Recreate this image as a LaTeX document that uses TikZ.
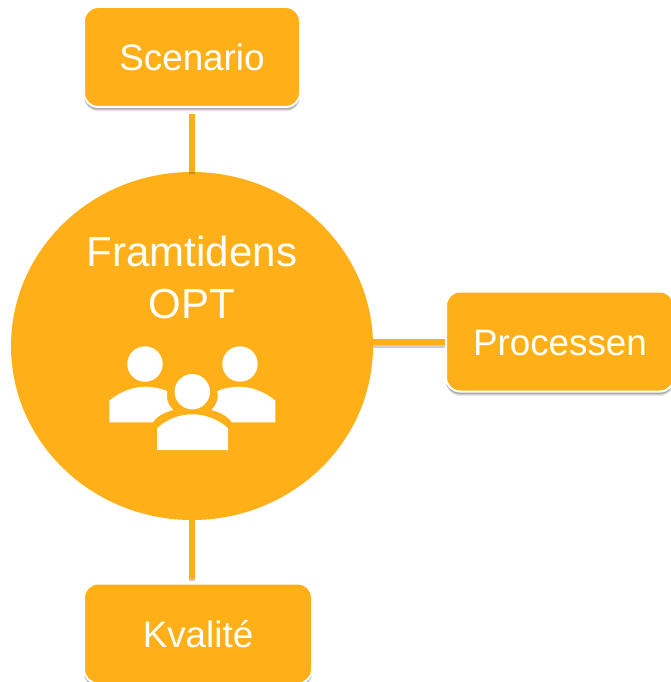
\documentclass[tikz,border=0pt]{standalone}
\usepackage{fontspec}
\setmainfont{Liberation Sans}
\usetikzlibrary{shadows,shapes.geometric}
\definecolor{optorange}{RGB}{255,176,24}
\tikzset{
  softshadow/.style={
    copy shadow={shadow xshift=0pt,shadow yshift=-4.5pt,opacity=.07,fill=black,draw=none},
    copy shadow={shadow xshift=0pt,shadow yshift=-3.5pt,opacity=.12,fill=black,draw=none},
    copy shadow={shadow xshift=0pt,shadow yshift=-2.5pt,opacity=.18,fill=black,draw=none},
  },
  boxnode/.style={softshadow,rectangle,rounded corners=14pt,fill=optorange,draw=white,line width=2pt,
    inner sep=0pt,text=white,font=\fontsize{36.8pt}{40pt}\selectfont,text height=28pt,text depth=0pt,align=center},
  hubnode/.style={ellipse,fill=optorange,inner sep=0pt,minimum width=362pt,minimum height=348pt},
  hubtext/.style={text=white,font=\fontsize{42pt}{52pt}\selectfont,align=center,inner sep=0pt},
  connector/.style={draw=optorange,line width=6pt,
    preaction={draw=black,draw opacity=.2,line width=6pt,transform canvas={yshift=-2.5pt}}},
  iconshape/.style={fill=white,draw=none},
}
\begin{document}
\begin{tikzpicture}[x=1pt,y=-1pt]
\useasboundingbox (0,0) rectangle (671,682);
\begin{scope}
\clip (0,0) rectangle (671,682);
\node[hubnode] (hub) at (192,346) {};
\node[boxnode,minimum width=216pt,minimum height=100pt] (scen) at (192,57) {Scenario};
\node[boxnode,minimum width=228pt,minimum height=100pt] (proc) at (560,341.5) {Processen};
\node[boxnode,minimum width=228pt,minimum height=100pt] (kval) at (198,633.5) {Kvalité};
\draw[connector,shorten >=6pt] (hub.north) -- (scen.south);
\draw[connector] (hub.east) ++(0,-4) -- (proc.west |- 0,342);
\draw[connector,shorten >=4pt] (hub.south) -- (hub.south |- kval.north);
\end{scope}
\node[hubtext] (title) at (192,277) {Framtidens\\OPT};
% people icon
\fill[iconshape] (145,364) circle[radius=17.7pt];
\fill[iconshape] (240,364) circle[radius=17.7pt];
\fill[iconshape] (192.3,391.7) circle[radius=17.7pt];
\fill[iconshape] (109.3,422.3) -- (152.7,422.3) .. controls (157,416) and (165,412) .. (173.3,410)
  .. controls (167,404) and (166,397) .. (167.3,391) .. controls (160,388) and (152,386.7) .. (145,386.7)
  .. controls (132,386.7) and (118,393) .. (109.3,400.7) -- cycle;
\fill[iconshape] (275.3,422.3) -- (231.9,422.3) .. controls (227.6,416) and (219.6,412) .. (211.3,410)
  .. controls (217.6,404) and (218.6,397) .. (217.3,391) .. controls (224.6,388) and (232.6,386.7) .. (239.6,386.7)
  .. controls (252.6,386.7) and (266.6,393) .. (275.3,400.7) -- cycle;
\fill[iconshape] (157,450) -- (228,450) -- (228,428.3) .. controls (218,419) and (205,414.3) .. (192.3,414.3)
  .. controls (180,414.3) and (167,419) .. (157,428.3) -- cycle;
\end{tikzpicture}
\end{document}
